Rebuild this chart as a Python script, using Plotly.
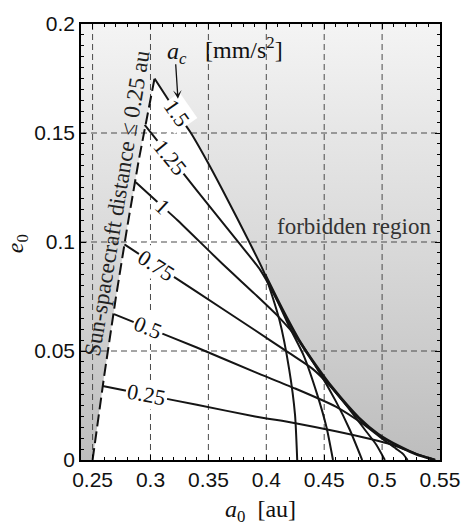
import plotly.graph_objects as go

# ---- axes -------------------------------------------------------------
x_ticks = [0.25, 0.30, 0.35, 0.40, 0.45, 0.50, 0.55]
x_tick_text = ["0.25", "0.3", "0.35", "0.4", "0.45", "0.5", "0.55"]
y_ticks = [0.0, 0.05, 0.10, 0.15, 0.20]
y_tick_text = ["0", "0.05", "0.1", "0.15", "0.2"]
x_range = [0.24, 0.55]
y_range = [0.0, 0.20]

# ---- iso-acceleration curves, a_c in mm/s^2 -------------------------
ac_labels = ["1.5", "1.25", "1", "0.75", "0.5", "0.25"]

a0_ac150 = [0.3035, 0.3231, 0.3349, 0.3500, 0.3650, 0.3853, 0.3987, 0.4113, 0.4197, 0.4248, 0.4267]
e0_ac150 = [0.1750, 0.1590, 0.1500, 0.1360, 0.1210, 0.1000, 0.0853, 0.0643, 0.0418, 0.0208, 0.0000]

a0_ac125 = [0.2950, 0.3172, 0.3287, 0.3500, 0.3750, 0.3950, 0.4100, 0.4200, 0.4324, 0.4440, 0.4520, 0.4576]
e0_ac125 = [0.1537, 0.1389, 0.1312, 0.1170, 0.1005, 0.0870, 0.0725, 0.0610, 0.0478, 0.0300, 0.0150, 0.0000]

a0_ac100 = [0.2873, 0.3105, 0.3231, 0.3623, 0.3900, 0.4100, 0.4280, 0.4450, 0.4600, 0.4720, 0.4828]
e0_ac100 = [0.1274, 0.1162, 0.1101, 0.0899, 0.0762, 0.0660, 0.0550, 0.0410, 0.0270, 0.0140, 0.0000]

a0_ac075 = [0.2775, 0.3049, 0.3400, 0.3903, 0.4200, 0.4400, 0.4550, 0.4700, 0.4850, 0.4950, 0.5024]
e0_ac075 = [0.0989, 0.0893, 0.0771, 0.0595, 0.0490, 0.0418, 0.0340, 0.0245, 0.0140, 0.0070, 0.0000]

a0_ac050 = [0.2685, 0.2979, 0.3400, 0.3903, 0.4240, 0.4600, 0.4850, 0.5000, 0.5120, 0.5180, 0.5220]
e0_ac050 = [0.0669, 0.0606, 0.0516, 0.0403, 0.0330, 0.0245, 0.0160, 0.0098, 0.0052, 0.0028, 0.0000]

a0_ac025 = [0.2587, 0.2965, 0.3400, 0.3903, 0.4240, 0.4600, 0.4900, 0.5100, 0.5300, 0.5400, 0.5458]
e0_ac025 = [0.0339, 0.0299, 0.0253, 0.0200, 0.0170, 0.0132, 0.0096, 0.0068, 0.0027, 0.0010, 0.0000]

# perihelion limit (Sun-spacecraft distance 0.25 au)
a0_rp = [0.2500, 0.2600, 0.2700, 0.2800, 0.2900, 0.3035]
e0_rp = [0.0000, 0.0385, 0.0741, 0.1071, 0.1379, 0.1750]

# outer boundary of the reachable set (edge of the forbidden region)
a0_env = [0.3035, 0.3349, 0.3650, 0.3853, 0.3987, 0.4140, 0.4296, 0.4430, 0.4576, 0.4800, 0.4968, 0.5164, 0.5300, 0.5458]
e0_env = [0.1750, 0.1500, 0.1210, 0.1000, 0.0853, 0.0690, 0.0538, 0.0432, 0.0328, 0.0193, 0.0118, 0.0058, 0.0025, 0.0000]

# in-line contour label anchors
label_a0 = [0.3231, 0.3172, 0.3105, 0.3049, 0.2979, 0.2965]
label_e0 = [0.1590, 0.1389, 0.1162, 0.0893, 0.0606, 0.0299]
label_angle = [55, 51, 43, 33, 22, 11]

curves = [
    (a0_ac150, e0_ac150),
    (a0_ac125, e0_ac125),
    (a0_ac100, e0_ac100),
    (a0_ac075, e0_ac075),
    (a0_ac050, e0_ac050),
    (a0_ac025, e0_ac025),
]

SERIF = "Liberation Serif, Times New Roman, serif"
SANS = "Liberation Sans, Arial, Helvetica, sans-serif"

fig = go.Figure()

# shaded background over the whole axes box (dark at e0 = 0, light at the top)
fig.add_trace(go.Scatter(
    x=[x_range[0], x_range[1], x_range[1], x_range[0], x_range[0]],
    y=[y_range[0], y_range[0], y_range[1], y_range[1], y_range[0]],
    mode="none", fill="toself",
    fillgradient=dict(type="vertical", start=y_range[0], stop=y_range[1],
                      colorscale=[[0, "#bcbcbc"], [0.25, "#cbcbcb"], [0.5, "#d9d9d9"],
                                  [0.75, "#e6e6e6"], [1, "#f4f4f4"]]),
    hoverinfo="skip", showlegend=False,
))

# reachable (white) region
fig.add_trace(go.Scatter(
    x=a0_rp + a0_env[1:] + [a0_rp[0]],
    y=e0_rp + e0_env[1:] + [e0_rp[0]],
    mode="none", fill="toself", fillcolor="white",
    hoverinfo="skip", showlegend=False,
))

# dashed grid
gx, gy = [], []
for v in x_ticks[:-1]:
    gx += [v, v, None]
    gy += [y_range[0], y_range[1], None]
for v in y_ticks[1:-1]:
    gx += [x_range[0], x_range[1], None]
    gy += [v, v, None]
fig.add_trace(go.Scatter(
    x=gx, y=gy, mode="lines",
    line=dict(color="#4a4a4a", width=1, dash="6px,4px"),
    hoverinfo="skip", showlegend=False,
))

# perihelion limit
fig.add_trace(go.Scatter(
    x=a0_rp, y=e0_rp, mode="lines",
    line=dict(color="#111111", width=2, dash="12px,5px"),
    hoverinfo="skip", showlegend=False,
))

# iso-acceleration curves
for ax_, ey_ in curves:
    fig.add_trace(go.Scatter(
        x=ax_, y=ey_, mode="lines",
        line=dict(color="#151515", width=2, shape="spline", smoothing=0.6),
        hoverinfo="skip", showlegend=False,
    ))

# forbidden-region edge
fig.add_trace(go.Scatter(
    x=a0_env[4:], y=e0_env[4:], mode="lines",
    line=dict(color="#151515", width=2.8, shape="spline", smoothing=0.6),
    hoverinfo="skip", showlegend=False,
))

annotations = []
for txt, xa, ya, ang in zip(ac_labels, label_a0, label_e0, label_angle):
    annotations.append(dict(
        x=xa, y=ya, xref="x", yref="y", text=txt, showarrow=False,
        textangle=ang, font=dict(family=SERIF, size=22, color="#111111"),
        bgcolor="white", borderpad=1,
    ))

annotations += [
    dict(x=0.2715, y=0.1180, xref="x", yref="y",
         text="Sun-spacecraft distance \u2264 0.25 au", showarrow=False,
         textangle=-80.7, font=dict(family=SERIF, size=23, color="#222222")),
    dict(x=0.4761, y=0.1071, xref="x", yref="y", text="forbidden region",
         showarrow=False, font=dict(family=SERIF, size=23, color="#333333")),
    dict(x=0.3231, y=0.1868, xref="x", yref="y",
         text="<i>a</i><sub><i>c</i></sub>", showarrow=False,
         font=dict(family=SERIF, size=24, color="#111111")),
    dict(x=0.3811, y=0.1890, xref="x", yref="y",
         text="[mm/s<sup>2</sup>]", showarrow=False,
         font=dict(family=SERIF, size=24, color="#111111")),
    dict(x=0.3237, y=0.1657, ax=0.3217, ay=0.1822, xref="x", yref="y",
         axref="x", ayref="y", text="", showarrow=True,
         arrowhead=3, arrowsize=1.1, arrowwidth=1.3, arrowcolor="#111111"),
    dict(x=0.5, y=-0.118, xref="paper", yref="paper", xanchor="center",
         yanchor="middle", text="<i>a</i><sub>0</sub>  [au]", showarrow=False,
         font=dict(family=SERIF, size=24, color="#111111")),
    dict(x=-0.178, y=0.495, xref="paper", yref="paper", xanchor="center",
         yanchor="middle", text="<i>e</i><sub>0</sub>", showarrow=False,
         textangle=-90, font=dict(family=SERIF, size=24, color="#111111")),
]

axis_common = dict(
    showgrid=False, zeroline=False, showline=True, linecolor="black",
    linewidth=1.5, mirror="allticks", ticks="inside", ticklen=5,
    tickwidth=1, tickcolor="black",
    tickfont=dict(family=SANS, size=21, color="#111111"),
)

fig.update_layout(
    width=472, height=528,
    margin=dict(l=81, r=22, t=16, b=68),
    paper_bgcolor="white", plot_bgcolor="white",
    xaxis=dict(range=x_range, tickvals=x_ticks, ticktext=x_tick_text,
               minor=dict(ticks="inside", ticklen=3, dtick=0.01, tick0=0.25,
                          tickcolor="black", showgrid=False),
               ticklabelstandoff=0, **axis_common),
    yaxis=dict(range=y_range, tickvals=y_ticks, ticktext=y_tick_text,
               minor=dict(ticks="inside", ticklen=3, dtick=0.005, tick0=0,
                          tickcolor="black", showgrid=False),
               ticklabelstandoff=0, **axis_common),
    annotations=annotations,
    showlegend=False,
)

fig.write_html("out.html")
